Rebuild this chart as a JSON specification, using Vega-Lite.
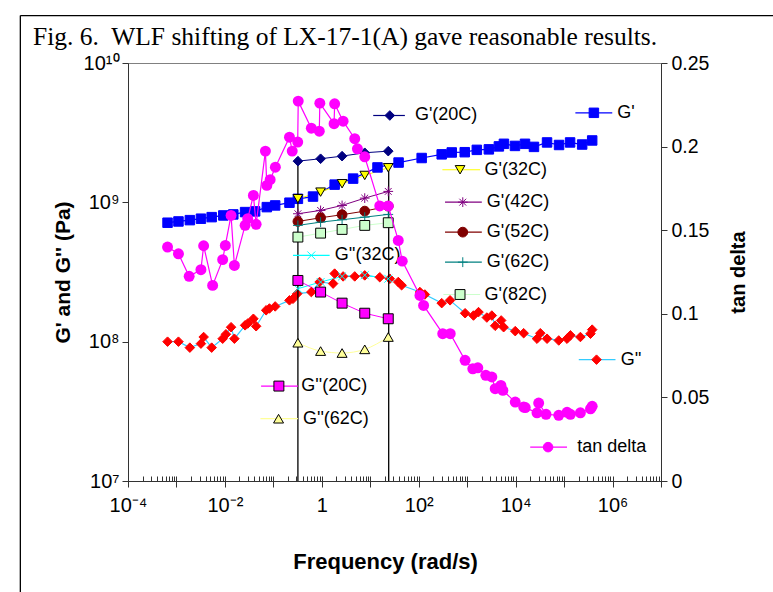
{
  "$schema": "https://vega.github.io/schema/vega-lite/v6.json",
  "width": 533,
  "height": 418,
  "autosize": {"type": "none"},
  "padding": {"left": 128, "top": 63, "right": 112, "bottom": 111},
  "background": "white",
  "title": {"text": "Fig. 6.\u00a0 WLF shifting of LX-17-1(A) gave reasonable results.", "anchor": "start", "frame": "group", "dx": -95, "dy": 44, "offset": 8, "font": "Liberation Serif", "fontSize": 25.5, "fontWeight": "normal", "color": "black"},
  "config": {
    "view": {"stroke": "#808080", "strokeWidth": 1},
    "axis": {"grid": false, "labelFont": "Liberation Sans", "titleFont": "Liberation Sans", "labelColor": "black", "titleColor": "black", "domainColor": "#333333", "tickColor": "#333333", "labelFontSize": 20, "titleFontSize": 21, "titleFontWeight": "bold"}
  },
  "datasets": {
    "main": [
      {"s": "G'", "f": 0.000655, "G": 714000000}, {"s": "G'", "f": 0.00110, "G": 729000000}, {"s": "G'", "f": 0.00189, "G": 745000000}, {"s": "G'", "f": 0.00320, "G": 763000000}, {"s": "G'", "f": 0.00533, "G": 783000000}, {"s": "G'", "f": 0.00927, "G": 805000000}, {"s": "G'", "f": 0.0149, "G": 819000000}, {"s": "G'", "f": 0.0261, "G": 851000000}, {"s": "G'", "f": 0.0420, "G": 861000000}, {"s": "G'", "f": 0.0733, "G": 924000000}, {"s": "G'", "f": 0.109, "G": 950000000}, {"s": "G'", "f": 0.215, "G": 994000000}, {"s": "G'", "f": 0.321, "G": 1060000000}, {"s": "G'", "f": 0.658, "G": 1100000000}, {"s": "G'", "f": 1.84, "G": 1340000000}, {"s": "G'", "f": 4.43, "G": 1480000000}, {"s": "G'", "f": 14.1, "G": 1780000000}, {"s": "G'", "f": 38.4, "G": 1930000000}, {"s": "G'", "f": 115, "G": 2080000000}, {"s": "G'", "f": 298, "G": 2210000000}, {"s": "G'", "f": 480, "G": 2280000000}, {"s": "G'", "f": 891, "G": 2290000000}, {"s": "G'", "f": 1581, "G": 2380000000}, {"s": "G'", "f": 2800, "G": 2400000000}, {"s": "G'", "f": 4510, "G": 2520000000}, {"s": "G'", "f": 5730, "G": 2630000000}, {"s": "G'", "f": 9680, "G": 2540000000}, {"s": "G'", "f": 15600, "G": 2630000000}, {"s": "G'", "f": 23900, "G": 2500000000}, {"s": "G'", "f": 44500, "G": 2690000000}, {"s": "G'", "f": 78700, "G": 2580000000}, {"s": "G'", "f": 133000, "G": 2690000000}, {"s": "G'", "f": 236000, "G": 2600000000}, {"s": "G'", "f": 380000, "G": 2780000000},
      {"s": "G''", "f": 0.000655, "G": 100000000}, {"s": "G''", "f": 0.00110, "G": 100000000}, {"s": "G''", "f": 0.00189, "G": 90600000}, {"s": "G''", "f": 0.00320, "G": 96800000}, {"s": "G''", "f": 0.00364, "G": 108000000}, {"s": "G''", "f": 0.00533, "G": 90600000}, {"s": "G''", "f": 0.00899, "G": 105000000}, {"s": "G''", "f": 0.0105, "G": 113000000}, {"s": "G''", "f": 0.0134, "G": 127000000}, {"s": "G''", "f": 0.0157, "G": 105000000}, {"s": "G''", "f": 0.0261, "G": 131000000}, {"s": "G''", "f": 0.0296, "G": 135000000}, {"s": "G''", "f": 0.0387, "G": 146000000}, {"s": "G''", "f": 0.0441, "G": 129000000}, {"s": "G''", "f": 0.0710, "G": 168000000}, {"s": "G''", "f": 0.0830, "G": 173000000}, {"s": "G''", "f": 0.109, "G": 179000000}, {"s": "G''", "f": 0.215, "G": 198000000}, {"s": "G''", "f": 0.254, "G": 203000000}, {"s": "G''", "f": 0.311, "G": 221000000}, {"s": "G''", "f": 0.607, "G": 227000000}, {"s": "G''", "f": 0.90, "G": 268000000}, {"s": "G''", "f": 1.71, "G": 261000000}, {"s": "G''", "f": 1.84, "G": 308000000}, {"s": "G''", "f": 2.75, "G": 294000000}, {"s": "G''", "f": 4.78, "G": 294000000}, {"s": "G''", "f": 7.69, "G": 299000000}, {"s": "G''", "f": 15.7, "G": 290000000}, {"s": "G''", "f": 25.3, "G": 283000000}, {"s": "G''", "f": 37.8, "G": 268000000}, {"s": "G''", "f": 44.3, "G": 254000000}, {"s": "G''", "f": 106, "G": 227000000}, {"s": "G''", "f": 134, "G": 218000000}, {"s": "G''", "f": 298, "G": 189000000}, {"s": "G''", "f": 443, "G": 198000000}, {"s": "G''", "f": 906, "G": 160000000}, {"s": "G''", "f": 1349, "G": 154000000}, {"s": "G''", "f": 1714, "G": 163000000}, {"s": "G''", "f": 2547, "G": 149000000}, {"s": "G''", "f": 3228, "G": 154000000}, {"s": "G''", "f": 3784, "G": 130000000}, {"s": "G''", "f": 5035, "G": 142000000}, {"s": "G''", "f": 5649, "G": 127000000}, {"s": "G''", "f": 9817, "G": 119000000}, {"s": "G''", "f": 14650, "G": 115000000}, {"s": "G''", "f": 27600, "G": 105000000}, {"s": "G''", "f": 32300, "G": 115000000}, {"s": "G''", "f": 44500, "G": 105000000}, {"s": "G''", "f": 77600, "G": 102000000}, {"s": "G''", "f": 115000, "G": 105000000}, {"s": "G''", "f": 135000, "G": 111000000}, {"s": "G''", "f": 217000, "G": 108000000}, {"s": "G''", "f": 351000, "G": 114000000}, {"s": "G''", "f": 380000, "G": 122000000}
    ],
    "short": [
      {"s": "G'(20C)", "f": 0.321, "G": 1975000000}, {"s": "G'(20C)", "f": 0.944, "G": 2055000000}, {"s": "G'(20C)", "f": 2.62, "G": 2145000000}, {"s": "G'(20C)", "f": 7.69, "G": 2269000000}, {"s": "G'(20C)", "f": 23.5, "G": 2330000000},
      {"s": "G'(32C)", "f": 0.321, "G": 1062000000}, {"s": "G'(32C)", "f": 0.944, "G": 1184000000}, {"s": "G'(32C)", "f": 2.62, "G": 1360000000}, {"s": "G'(32C)", "f": 7.69, "G": 1560000000}, {"s": "G'(32C)", "f": 23.5, "G": 1771000000},
      {"s": "G'(42C)", "f": 0.321, "G": 828000000}, {"s": "G'(42C)", "f": 0.944, "G": 875000000}, {"s": "G'(42C)", "f": 2.62, "G": 950000000}, {"s": "G'(42C)", "f": 7.69, "G": 1072000000}, {"s": "G'(42C)", "f": 23.5, "G": 1198000000},
      {"s": "G'(52C)", "f": 0.321, "G": 729000000}, {"s": "G'(52C)", "f": 0.944, "G": 775000000}, {"s": "G'(52C)", "f": 2.62, "G": 815000000}, {"s": "G'(52C)", "f": 7.69, "G": 865000000}, {"s": "G'(52C)", "f": 23.5, "G": 939000000},
      {"s": "G'(62C)", "f": 0.321, "G": 683000000}, {"s": "G'(62C)", "f": 0.944, "G": 721000000}, {"s": "G'(62C)", "f": 2.62, "G": 750000000}, {"s": "G'(62C)", "f": 7.69, "G": 783000000}, {"s": "G'(62C)", "f": 23.5, "G": 819000000},
      {"s": "G'(82C)", "f": 0.321, "G": 563000000}, {"s": "G'(82C)", "f": 0.944, "G": 601000000}, {"s": "G'(82C)", "f": 2.62, "G": 639000000}, {"s": "G'(82C)", "f": 7.69, "G": 683000000}, {"s": "G'(82C)", "f": 23.5, "G": 714000000},
      {"s": "G''(32C)", "f": 0.321, "G": 240000000}, {"s": "G''(32C)", "f": 0.944, "G": 268000000}, {"s": "G''(32C)", "f": 2.62, "G": 294000000}, {"s": "G''(32C)", "f": 7.69, "G": 300000000}, {"s": "G''(32C)", "f": 23.5, "G": 283000000},
      {"s": "G''(20C)", "f": 0.321, "G": 275000000}, {"s": "G''(20C)", "f": 0.944, "G": 227000000}, {"s": "G''(20C)", "f": 2.62, "G": 189000000}, {"s": "G''(20C)", "f": 7.69, "G": 160000000}, {"s": "G''(20C)", "f": 23.5, "G": 146000000},
      {"s": "G''(62C)", "f": 0.321, "G": 98300000}, {"s": "G''(62C)", "f": 0.944, "G": 85600000}, {"s": "G''(62C)", "f": 2.62, "G": 82900000}, {"s": "G''(62C)", "f": 7.69, "G": 88100000}, {"s": "G''(62C)", "f": 23.5, "G": 108000000}
    ],
    "tan": [
      {"f": 0.000655, "t": 0.1399}, {"f": 0.00110, "t": 0.1359}, {"f": 0.00183, "t": 0.1224}, {"f": 0.00320, "t": 0.1264}, {"f": 0.00364, "t": 0.1407}, {"f": 0.00558, "t": 0.1170}, {"f": 0.00899, "t": 0.1324}, {"f": 0.0102, "t": 0.1409}, {"f": 0.0134, "t": 0.1588}, {"f": 0.0157, "t": 0.1289}, {"f": 0.0261, "t": 0.1529}, {"f": 0.0296, "t": 0.1569}, {"f": 0.0387, "t": 0.1708}, {"f": 0.0441, "t": 0.1535}, {"f": 0.0685, "t": 0.1973}, {"f": 0.0733, "t": 0.1768}, {"f": 0.0859, "t": 0.1802}, {"f": 0.110, "t": 0.1877}, {"f": 0.215, "t": 0.2056}, {"f": 0.245, "t": 0.1973}, {"f": 0.318, "t": 0.2027}, {"f": 0.326, "t": 0.2272}, {"f": 0.607, "t": 0.2110}, {"f": 0.887, "t": 0.2092}, {"f": 0.910, "t": 0.2260}, {"f": 1.79, "t": 0.2137}, {"f": 1.84, "t": 0.2256}, {"f": 2.75, "t": 0.2152}, {"f": 4.78, "t": 0.2047}, {"f": 5.43, "t": 0.1987}, {"f": 7.69, "t": 0.1939}, {"f": 15.7, "t": 0.1645}, {"f": 23.5, "t": 0.1645}, {"f": 37.8, "t": 0.1439}, {"f": 45.7, "t": 0.1315}, {"f": 106, "t": 0.1110}, {"f": 126, "t": 0.1050}, {"f": 313, "t": 0.0881}, {"f": 447, "t": 0.0881}, {"f": 906, "t": 0.0722}, {"f": 1306, "t": 0.0671}, {"f": 1657, "t": 0.0677}, {"f": 2427, "t": 0.0632}, {"f": 3228, "t": 0.0622}, {"f": 3784, "t": 0.0552}, {"f": 4966, "t": 0.0572}, {"f": 5458, "t": 0.0542}, {"f": 9817, "t": 0.0472}, {"f": 14650, "t": 0.0442}, {"f": 15800, "t": 0.0439}, {"f": 27600, "t": 0.0408}, {"f": 29900, "t": 0.0466}, {"f": 42400, "t": 0.0399}, {"f": 77600, "t": 0.0393}, {"f": 115000, "t": 0.0411}, {"f": 135000, "t": 0.0399}, {"f": 217000, "t": 0.0408}, {"f": 351000, "t": 0.0432}, {"f": 380000, "t": 0.0447}
    ],
    "vlines": [
      {"f": 0.321, "G": 1975000000},
      {"f": 24, "G": 1771000000}
    ],
    "leg": [
      {"s": "G'(20C)", "f1": 11.5, "f2": 51.8, "fm": 25.3, "ft": 83.4, "G": 4200000000},
      {"s": "G'", "f1": 171000, "f2": 986000, "fm": 412000, "ft": 1250000, "G": 4390000000},
      {"s": "G'(32C)", "f1": 308, "f2": 1849, "fm": 713, "ft": 2281, "G": 1713000000},
      {"s": "G'(42C)", "f1": 349, "f2": 2005, "fm": 811, "ft": 2547, "G": 1003000000},
      {"s": "G'(52C)", "f1": 349, "f2": 2005, "fm": 811, "ft": 2547, "G": 611000000},
      {"s": "G'(62C)", "f1": 349, "f2": 2005, "fm": 811, "ft": 2547, "G": 372000000},
      {"s": "G'(82C)", "f1": 323, "f2": 1849, "fm": 713, "ft": 2281, "G": 218000000},
      {"s": "G''(32C)", "f1": 0.254, "f2": 1.45, "fm": 0.607, "ft": 1.84, "G": 416000000},
      {"s": "G''", "f1": 201000, "f2": 1150000, "fm": 467000, "ft": 1470000, "G": 74300000},
      {"s": "G''(20C)", "f1": 0.0558, "f2": 0.321, "fm": 0.130, "ft": 0.377, "G": 48000000},
      {"s": "G''(62C)", "f1": 0.0541, "f2": 0.321, "fm": 0.128, "ft": 0.408, "G": 28000000},
      {"s": "tan delta", "f1": 20000, "f2": 115000, "fm": 46700, "ft": 186000, "G": 17500000}
    ]
  },
  "layer": [
    {
      "data": {"values": [{}]},
      "mark": {"type": "rule", "color": "black", "strokeWidth": 1.3, "clip": false},
      "encoding": {
        "x": {"datum": 0.0000006, "type": "quantitative", "scale": {"type": "log", "domain": [0.0001, 10000000], "nice": false}, "axis": null},
        "y": {"datum": 21900000000, "type": "quantitative", "scale": {"type": "log", "domain": [10000000, 10000000000], "nice": false}, "axis": null},
        "y2": {"datum": 1000000}
      }
    },
    {
      "data": {"values": [{}]},
      "mark": {"type": "rule", "color": "black", "strokeWidth": 1.3, "clip": false},
      "encoding": {
        "x": {"datum": 0.0000006, "type": "quantitative", "scale": {"type": "log", "domain": [0.0001, 10000000], "nice": false}, "axis": null},
        "x2": {"datum": 100000000000},
        "y": {"datum": 21900000000, "type": "quantitative", "scale": {"type": "log", "domain": [10000000, 10000000000], "nice": false}, "axis": null}
      }
    },
    {
      "data": {"name": "main"},
      "mark": {"type": "line", "strokeWidth": 1.2},
      "encoding": {
        "x": {"field": "f", "type": "quantitative", "scale": {"type": "log", "domain": [0.0001, 10000000], "nice": false},
          "axis": {"orient": "bottom", "values": [0.0001, 0.001, 0.01, 0.1, 1, 10, 100, 1000, 10000, 100000, 1000000, 10000000], "labelExpr": "round(log(datum.value)/LN10) == -4 ? '10⁻⁴' : round(log(datum.value)/LN10) == -2 ? '10⁻²' : round(log(datum.value)/LN10) == 0 ? '1' : round(log(datum.value)/LN10) == 2 ? '10²' : round(log(datum.value)/LN10) == 4 ? '10⁴' : round(log(datum.value)/LN10) == 6 ? '10⁶' : ''", "tickSize": 6, "labelPadding": 8, "labelFlush": false, "labelOverlap": false, "title": "Frequency (rad/s)", "titleFontSize": 22, "titlePadding": 36, "titleX": 257}},
        "y": {"field": "G", "type": "quantitative", "scale": {"type": "log", "domain": [10000000, 10000000000], "nice": false},
          "axis": {"orient": "left", "values": [10000000, 100000000, 1000000000, 10000000000], "labelExpr": "round(log(datum.value)/LN10) == 7 ? '10⁷' : round(log(datum.value)/LN10) == 8 ? '10⁸' : round(log(datum.value)/LN10) == 9 ? '10⁹' : '10¹⁰'", "tickSize": 6, "labelPadding": 3, "labelOverlap": false, "title": "G' and G'' (Pa)", "titlePadding": 10}},
        "color": {"field": "s", "type": "nominal", "legend": null,
          "scale": {"domain": ["G'", "G''", "tan delta", "G'(20C)", "G'(32C)", "G'(42C)", "G'(52C)", "G'(62C)", "G'(82C)", "G''(32C)", "G''(20C)", "G''(62C)"],
                    "range": ["#0000FF", "#33CCFF", "#FF00FF", "#000080", "#FFFF00", "#800080", "#800000", "#008080", "#CCFFCC", "#00FFFF", "#FF00FF", "#FFFF99"]}}
      }
    },
    {
      "data": {"name": "short"},
      "transform": [{"filter": "datum.s != \"G''(62C)\""}],
      "mark": {"type": "line", "strokeWidth": 1},
      "encoding": {
        "x": {"field": "f", "type": "quantitative", "scale": {"type": "log", "domain": [0.0001, 10000000], "nice": false}, "axis": null},
        "y": {"field": "G", "type": "quantitative", "scale": {"type": "log", "domain": [10000000, 10000000000], "nice": false}, "axis": null},
        "color": {"field": "s", "type": "nominal", "legend": null,
          "scale": {"domain": ["G'", "G''", "tan delta", "G'(20C)", "G'(32C)", "G'(42C)", "G'(52C)", "G'(62C)", "G'(82C)", "G''(32C)", "G''(20C)", "G''(62C)"],
                    "range": ["#0000FF", "#33CCFF", "#FF00FF", "#000080", "#FFFF00", "#800080", "#800000", "#008080", "#CCFFCC", "#00FFFF", "#FF00FF", "#FFFF99"]}}
      }
    },
    {
      "data": {"name": "short"},
      "transform": [{"filter": "datum.s == \"G''(62C)\""}],
      "mark": {"type": "line", "strokeWidth": 1, "interpolate": "monotone"},
      "encoding": {
        "x": {"field": "f", "type": "quantitative", "scale": {"type": "log", "domain": [0.0001, 10000000], "nice": false}, "axis": null},
        "y": {"field": "G", "type": "quantitative", "scale": {"type": "log", "domain": [10000000, 10000000000], "nice": false}, "axis": null},
        "color": {"field": "s", "type": "nominal", "legend": null,
          "scale": {"domain": ["G'", "G''", "tan delta", "G'(20C)", "G'(32C)", "G'(42C)", "G'(52C)", "G'(62C)", "G'(82C)", "G''(32C)", "G''(20C)", "G''(62C)"],
                    "range": ["#0000FF", "#33CCFF", "#FF00FF", "#000080", "#FFFF00", "#800080", "#800000", "#008080", "#CCFFCC", "#00FFFF", "#FF00FF", "#FFFF99"]}}
      }
    },
    {
      "data": {"name": "main"},
      "mark": {"type": "point", "filled": true, "opacity": 1, "strokeWidth": 1},
      "encoding": {
        "x": {"field": "f", "type": "quantitative", "scale": {"type": "log", "domain": [0.0001, 10000000], "nice": false}, "axis": null},
        "y": {"field": "G", "type": "quantitative", "scale": {"type": "log", "domain": [10000000, 10000000000], "nice": false}, "axis": null},
        "shape": {"field": "s", "type": "nominal", "legend": null, "scale": {"domain": ["G'", "G''", "tan delta", "G'(20C)", "G'(32C)", "G'(42C)", "G'(52C)", "G'(62C)", "G'(82C)", "G''(32C)", "G''(20C)", "G''(62C)"], "range": ["square", "diamond", "circle", "diamond", "triangle-down", "M-1,0L1,0M0,-1L0,1M-0.7,-0.7L0.7,0.7M-0.7,0.7L0.7,-0.7", "circle", "M-1,0L1,0M0,-1L0,1", "square", "M-0.8,-0.8L0.8,0.8M-0.8,0.8L0.8,-0.8", "square", "triangle-up"]}},
        "fill": {"field": "s", "type": "nominal", "legend": null, "scale": {"domain": ["G'", "G''", "tan delta", "G'(20C)", "G'(32C)", "G'(42C)", "G'(52C)", "G'(62C)", "G'(82C)", "G''(32C)", "G''(20C)", "G''(62C)"], "range": ["#0000FF", "#FF0000", "#FF00FF", "#000080", "#FFFF00", "transparent", "#800000", "transparent", "#CCFFCC", "transparent", "#FF00FF", "#FFFF99"]}},
        "stroke": {"field": "s", "type": "nominal", "legend": null, "scale": {"domain": ["G'", "G''", "tan delta", "G'(20C)", "G'(32C)", "G'(42C)", "G'(52C)", "G'(62C)", "G'(82C)", "G''(32C)", "G''(20C)", "G''(62C)"], "range": ["#0000FF", "#FF0000", "#FF00FF", "#000080", "#000000", "#800080", "#800000", "#008080", "#000000", "#00FFFF", "#000000", "#000000"]}},
        "size": {"field": "s", "type": "ordinal", "legend": null, "scale": {"domain": ["G'", "G''", "tan delta", "G'(20C)", "G'(32C)", "G'(42C)", "G'(52C)", "G'(62C)", "G'(82C)", "G''(32C)", "G''(20C)", "G''(62C)"], "range": [90, 100, 120, 60, 90, 110, 90, 100, 80, 90, 90, 70]}}
      }
    },
    {
      "data": {"name": "vlines"},
      "mark": {"type": "rule", "color": "black", "strokeWidth": 1.3},
      "encoding": {
        "x": {"field": "f", "type": "quantitative", "scale": {"type": "log", "domain": [0.0001, 10000000], "nice": false}, "axis": null},
        "y": {"field": "G", "type": "quantitative", "scale": {"type": "log", "domain": [10000000, 10000000000], "nice": false}, "axis": null},
        "y2": {"datum": 10000000}
      }
    },
    {
      "data": {"name": "short"},
      "mark": {"type": "point", "filled": true, "opacity": 1, "strokeWidth": 1},
      "encoding": {
        "x": {"field": "f", "type": "quantitative", "scale": {"type": "log", "domain": [0.0001, 10000000], "nice": false}, "axis": null},
        "y": {"field": "G", "type": "quantitative", "scale": {"type": "log", "domain": [10000000, 10000000000], "nice": false}, "axis": null},
        "shape": {"field": "s", "type": "nominal", "legend": null, "scale": {"domain": ["G'", "G''", "tan delta", "G'(20C)", "G'(32C)", "G'(42C)", "G'(52C)", "G'(62C)", "G'(82C)", "G''(32C)", "G''(20C)", "G''(62C)"], "range": ["square", "diamond", "circle", "diamond", "triangle-down", "M-1,0L1,0M0,-1L0,1M-0.7,-0.7L0.7,0.7M-0.7,0.7L0.7,-0.7", "circle", "M-1,0L1,0M0,-1L0,1", "square", "M-0.8,-0.8L0.8,0.8M-0.8,0.8L0.8,-0.8", "square", "triangle-up"]}},
        "fill": {"field": "s", "type": "nominal", "legend": null, "scale": {"domain": ["G'", "G''", "tan delta", "G'(20C)", "G'(32C)", "G'(42C)", "G'(52C)", "G'(62C)", "G'(82C)", "G''(32C)", "G''(20C)", "G''(62C)"], "range": ["#0000FF", "#FF0000", "#FF00FF", "#000080", "#FFFF00", "transparent", "#800000", "transparent", "#CCFFCC", "transparent", "#FF00FF", "#FFFF99"]}},
        "stroke": {"field": "s", "type": "nominal", "legend": null, "scale": {"domain": ["G'", "G''", "tan delta", "G'(20C)", "G'(32C)", "G'(42C)", "G'(52C)", "G'(62C)", "G'(82C)", "G''(32C)", "G''(20C)", "G''(62C)"], "range": ["#0000FF", "#FF0000", "#FF00FF", "#000080", "#000000", "#800080", "#800000", "#008080", "#000000", "#00FFFF", "#000000", "#000000"]}},
        "size": {"field": "s", "type": "ordinal", "legend": null, "scale": {"domain": ["G'", "G''", "tan delta", "G'(20C)", "G'(32C)", "G'(42C)", "G'(52C)", "G'(62C)", "G'(82C)", "G''(32C)", "G''(20C)", "G''(62C)"], "range": [90, 100, 120, 60, 90, 110, 90, 100, 80, 90, 90, 70]}}
      }
    },
    {
      "data": {"name": "leg"},
      "mark": {"type": "rule", "strokeWidth": 1.2},
      "encoding": {
        "x": {"field": "f1", "type": "quantitative", "scale": {"type": "log", "domain": [0.0001, 10000000], "nice": false}, "axis": null},
        "x2": {"field": "f2"},
        "y": {"field": "G", "type": "quantitative", "scale": {"type": "log", "domain": [10000000, 10000000000], "nice": false}, "axis": null},
        "color": {"field": "s", "type": "nominal", "legend": null,
          "scale": {"domain": ["G'", "G''", "tan delta", "G'(20C)", "G'(32C)", "G'(42C)", "G'(52C)", "G'(62C)", "G'(82C)", "G''(32C)", "G''(20C)", "G''(62C)"],
                    "range": ["#0000FF", "#33CCFF", "#FF00FF", "#000080", "#FFFF00", "#800080", "#800000", "#008080", "#CCFFCC", "#00FFFF", "#FF00FF", "#FFFF99"]}}
      }
    },
    {
      "data": {"name": "leg"},
      "mark": {"type": "point", "filled": true, "opacity": 1, "strokeWidth": 1},
      "encoding": {
        "x": {"field": "fm", "type": "quantitative", "scale": {"type": "log", "domain": [0.0001, 10000000], "nice": false}, "axis": null},
        "y": {"field": "G", "type": "quantitative", "scale": {"type": "log", "domain": [10000000, 10000000000], "nice": false}, "axis": null},
        "shape": {"field": "s", "type": "nominal", "legend": null, "scale": {"domain": ["G'", "G''", "tan delta", "G'(20C)", "G'(32C)", "G'(42C)", "G'(52C)", "G'(62C)", "G'(82C)", "G''(32C)", "G''(20C)", "G''(62C)"], "range": ["square", "diamond", "circle", "diamond", "triangle-down", "M-1,0L1,0M0,-1L0,1M-0.7,-0.7L0.7,0.7M-0.7,0.7L0.7,-0.7", "circle", "M-1,0L1,0M0,-1L0,1", "square", "M-0.8,-0.8L0.8,0.8M-0.8,0.8L0.8,-0.8", "square", "triangle-up"]}},
        "fill": {"field": "s", "type": "nominal", "legend": null, "scale": {"domain": ["G'", "G''", "tan delta", "G'(20C)", "G'(32C)", "G'(42C)", "G'(52C)", "G'(62C)", "G'(82C)", "G''(32C)", "G''(20C)", "G''(62C)"], "range": ["#0000FF", "#FF0000", "#FF00FF", "#000080", "#FFFF00", "transparent", "#800000", "transparent", "#CCFFCC", "transparent", "#FF00FF", "#FFFF99"]}},
        "stroke": {"field": "s", "type": "nominal", "legend": null, "scale": {"domain": ["G'", "G''", "tan delta", "G'(20C)", "G'(32C)", "G'(42C)", "G'(52C)", "G'(62C)", "G'(82C)", "G''(32C)", "G''(20C)", "G''(62C)"], "range": ["#0000FF", "#FF0000", "#FF00FF", "#000080", "#000000", "#800080", "#800000", "#008080", "#000000", "#00FFFF", "#000000", "#000000"]}},
        "size": {"field": "s", "type": "ordinal", "legend": null, "scale": {"domain": ["G'", "G''", "tan delta", "G'(20C)", "G'(32C)", "G'(42C)", "G'(52C)", "G'(62C)", "G'(82C)", "G''(32C)", "G''(20C)", "G''(62C)"], "range": [90, 100, 120, 60, 90, 110, 90, 100, 80, 90, 90, 70]}}
      }
    },
    {
      "data": {"name": "leg"},
      "mark": {"type": "text", "align": "left", "baseline": "middle", "font": "Liberation Sans", "fontSize": 18, "color": "black"},
      "encoding": {
        "x": {"field": "ft", "type": "quantitative", "scale": {"type": "log", "domain": [0.0001, 10000000], "nice": false}, "axis": null},
        "y": {"field": "G", "type": "quantitative", "scale": {"type": "log", "domain": [10000000, 10000000000], "nice": false}, "axis": null},
        "text": {"field": "s"}
      }
    },
    {
      "data": {"name": "tan"},
      "mark": {"type": "line", "color": "#FF00FF", "strokeWidth": 1.2},
      "encoding": {
        "x": {"field": "f", "type": "quantitative", "scale": {"type": "log", "domain": [0.0001, 10000000], "nice": false},
          "axis": {"orient": "bottom", "values": [0.0001,0.0002,0.0003,0.0004,0.0005,0.0006,0.0007,0.0008,0.0009,0.001,0.002,0.003,0.004,0.005,0.006,0.007,0.008,0.009,0.01,0.02,0.03,0.04,0.05,0.06,0.07,0.08,0.09,0.1,0.2,0.3,0.4,0.5,0.6,0.7,0.8,0.9,1,2,3,4,5,6,7,8,9,10,20,30,40,50,60,70,80,90,100,200,300,400,500,600,700,800,900,1000,2000,3000,4000,5000,6000,7000,8000,9000,10000,20000,30000,40000,50000,60000,70000,80000,90000,100000,200000,300000,400000,500000,600000,700000,800000,900000,1000000,2000000,3000000,4000000,5000000,6000000,7000000,8000000,9000000,10000000], "tickSize": -5, "labels": false, "domain": false, "title": null, "grid": false}},
        "y": {"field": "t", "type": "quantitative", "scale": {"domain": [0, 0.25], "nice": false},
          "axis": {"orient": "right", "values": [0, 0.05, 0.1, 0.15, 0.2, 0.25], "format": "~g", "tickSize": 6, "labelPadding": 4, "labelFontSize": 19.5, "title": "tan delta", "titleFontSize": 20, "titleAngle": 270, "titlePadding": 40}}
      }
    },
    {
      "data": {"name": "tan"},
      "mark": {"type": "point", "shape": "circle", "filled": true, "color": "#FF00FF", "size": 120, "opacity": 1},
      "encoding": {
        "x": {"field": "f", "type": "quantitative", "scale": {"type": "log", "domain": [0.0001, 10000000], "nice": false}, "axis": null},
        "y": {"field": "t", "type": "quantitative", "scale": {"domain": [0, 0.25], "nice": false}, "axis": null}
      }
    }
  ],
  "resolve": {"scale": {"y": "independent"}, "axis": {"x": "independent", "y": "independent"}}
}
